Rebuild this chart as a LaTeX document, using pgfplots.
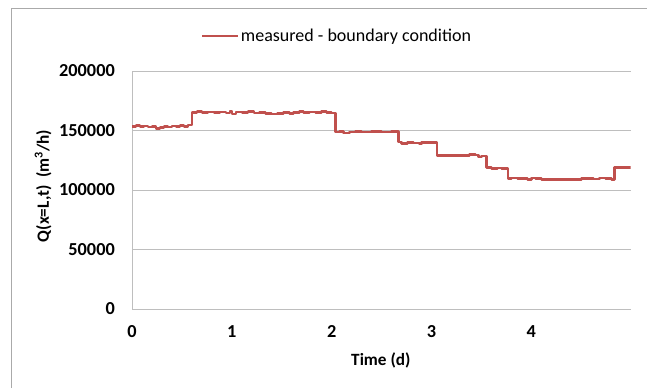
\documentclass[border=0pt]{standalone}
\usepackage{fontspec}
\setmainfont{Carlito}
\usepackage{pgfplots}
\pgfplotsset{compat=1.18}
\definecolor{exred}{RGB}{192,80,77}
\definecolor{gridg}{RGB}{190,190,190}
\definecolor{frameg}{RGB}{170,170,170}
\begin{document}
\begin{tikzpicture}[x=1pt,y=1pt]
\useasboundingbox (0,0) rectangle (647,388);
\fill[white] (0,0) rectangle (647,388);
\draw[frameg, line width=1pt] (11,0) -- (11,379) -- (647,379);
\begin{axis}[
  at={(132pt,79pt)}, anchor=south west,
  scale only axis, width=498.7pt, height=238pt,
  xmin=0, xmax=4.995, ymin=0, ymax=200000,
  xtick={0,1,2,3,4}, ytick={0,50000,100000,150000,200000},
  xticklabels={0,1,2,3,4},
  yticklabels={0,50000,100000,150000,200000},
  scaled y ticks=false,
  axis x line*=bottom, axis y line*=left,
  axis line style={gridg, line width=1pt, -},
  ymajorgrids, grid style={gridg, line width=1pt},
  major tick length=0pt,
  ticklabel style={font=\bfseries\fontsize{18.3}{20}\selectfont},
  yticklabel style={anchor=east, inner sep=0pt, xshift=-17pt},
  xticklabel style={anchor=center, inner sep=0pt, yshift=-22.5pt},
  xlabel={Time (d)},
  ylabel={Q(x=L,t)\ \ (m\textsuperscript{3}/h)},
  xlabel style={at={([yshift=-51pt]axis description cs:0.499,0)}, anchor=center, font=\bfseries\fontsize{17.2}{19}\selectfont},
  ylabel style={at={([xshift=-89pt]axis description cs:0,0.517)}, anchor=center, font=\bfseries\fontsize{17.2}{19}\selectfont},
  legend style={at={([yshift=35pt]axis description cs:0.4105,1)}, anchor=center, draw=none, fill=none, font=\fontsize{18}{20}\selectfont, inner sep=0pt, nodes={inner sep=1.5pt}},
  legend image code/.code={\draw[#1] (0pt,0pt) -- (36pt,0pt);},
]
\addplot[const plot, color=exred, line width=2.6pt, line join=round] coordinates {
(0,153500)(0.04,154200)(0.08,153600)(0.12,153900)(0.16,152800)(0.2,153200)(0.24,151900)(0.28,152600)(0.32,153500)(0.36,153000)(0.40,153800)(0.44,153200)(0.48,154000)(0.52,153500)(0.56,154500)
(0.60,165200)(0.65,165800)(0.7,164900)(0.76,165500)(0.82,165000)(0.88,165600)(0.94,164800)(0.98,166500)(1.0,164000)(1.04,165400)(1.1,165000)(1.16,165800)(1.22,164600)(1.28,165200)(1.34,164300)(1.4,163800)(1.46,164500)(1.52,165000)(1.58,164200)(1.62,165200)(1.68,165800)(1.72,164900)(1.78,165400)(1.84,165000)(1.9,166000)(1.95,165200)(2.0,164600)
(2.04,148600)(2.08,149200)(2.12,147800)(2.18,148600)(2.24,149000)(2.3,148700)(2.4,149000)(2.5,148800)(2.6,149000)
(2.67,140200)(2.7,139000)(2.76,139700)(2.82,139500)(2.88,138500)(2.9,139800)(3.0,139800)
(3.055,129000)(3.2,129000)(3.3,129200)(3.38,130000)(3.44,129500)(3.47,127800)(3.5,128600)
(3.55,119000)(3.6,118000)(3.66,118600)(3.7,118300)
(3.765,109800)(3.8,110200)(3.86,109500)(3.9,109800)(3.96,109000)(4.0,110200)(4.04,109500)(4.1,109000)(4.2,108900)(4.3,108900)(4.4,109000)(4.5,109500)(4.56,109800)(4.62,109300)(4.68,110000)(4.74,109600)(4.8,109000)
(4.83,118700)(4.99,118500)(4.995,118500)
};
\addlegendentry{measured - boundary condition}
\end{axis}
\end{tikzpicture}
\end{document}
